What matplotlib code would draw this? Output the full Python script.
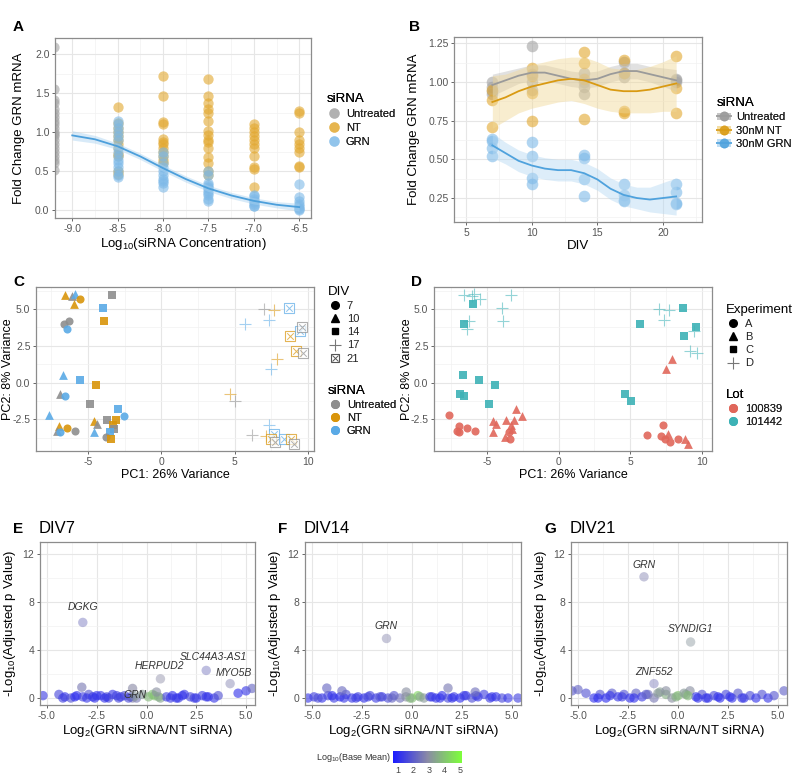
import matplotlib
matplotlib.use('Agg')
import matplotlib.pyplot as plt
from matplotlib.ticker import AutoMinorLocator, FormatStrFormatter
from matplotlib.colors import LinearSegmentedColormap, Normalize
from matplotlib.cm import ScalarMappable
from matplotlib.lines import Line2D
from matplotlib.patches import Patch

plt.rcParams['font.family'] = ['Liberation Sans', 'DejaVu Sans']
plt.rcParams['mathtext.default'] = 'regular'
plt.rcParams['axes.unicode_minus'] = False

# ---------------- A: dose response ----------------
a_untreated = [2.1, 1.55, 1.42, 1.38, 1.3, 1.25, 1.2, 1.15, 1.1, 1.05, 1.0,
               0.98, 0.95, 0.9, 0.85, 0.8, 0.75, 0.7, 0.65, 0.6, 0.52]
a_doses = [-8.5, -8.0, -7.5, -7.0, -6.5]
a_nt = [[1.33, 1.12, 1.05, 1.0, 0.95, 0.9, 0.85, 0.8, 0.72, 0.7, 0.5, 0.47],
        [1.72, 1.47, 1.13, 1.1, 0.92, 0.88, 0.85, 0.8, 0.75, 0.7, 0.65, 0.6],
        [1.69, 1.46, 1.38, 1.3, 1.25, 1.15, 1.02, 0.97, 0.9, 0.87, 0.8, 0.68, 0.6, 0.5, 0.45],
        [1.1, 1.05, 1.0, 0.95, 0.9, 0.85, 0.8, 0.7, 0.55, 0.53, 0.3],
        [1.27, 1.25, 1.0, 0.9, 0.85, 0.8, 0.75, 0.57, 0.55]]
a_grn = [[1.15, 1.1, 1.05, 1.0, 0.95, 0.9, 0.8, 0.75, 0.7, 0.65, 0.6, 0.55, 0.5, 0.45, 0.42],
         [0.75, 0.7, 0.6, 0.55, 0.5, 0.45, 0.4, 0.38, 0.35, 0.3],
         [0.5, 0.45, 0.35, 0.32, 0.3, 0.28, 0.25, 0.22, 0.2, 0.15, 0.12],
         [0.2, 0.18, 0.15, 0.12, 0.1, 0.08, 0.06, 0.05],
         [0.33, 0.17, 0.12, 0.08, 0.05, 0.03, 0.02, 0.0]]
a_fit_x = [-9.0, -8.75, -8.5, -8.25, -8.0, -7.75, -7.5, -7.25, -7.0, -6.75, -6.5]
a_fit_y = [0.96, 0.91, 0.82, 0.69, 0.54, 0.40, 0.28, 0.19, 0.12, 0.07, 0.04]
a_fit_se = [0.06, 0.05, 0.04, 0.04, 0.04, 0.04, 0.04, 0.04, 0.04, 0.04, 0.05]

# ---------------- B: time course ----------------
b_div = [7, 10, 14, 17, 21]
b_untreated = [[1.0, 0.97, 0.94, 0.92], [1.23, 1.05, 1.0, 0.95], [1.06, 1.0, 0.97, 0.92],
               [1.13, 1.06, 1.03], [1.02, 1.0, 1.01]]
b_nt = [[0.95, 0.88, 0.71], [1.09, 1.04, 0.93, 0.75], [1.19, 1.12, 1.02, 0.76],
        [1.14, 1.06, 0.80, 0.81], [1.17, 0.96, 0.80]]
b_grn = [[0.63, 0.62, 0.57, 0.52], [0.61, 0.52, 0.38, 0.34], [0.53, 0.51, 0.37, 0.26],
         [0.34, 0.27, 0.24, 0.23], [0.34, 0.29, 0.22, 0.21]]
b_fit_x = [7, 8, 9, 10, 11, 12, 13, 14, 15, 16, 17, 18, 19, 20, 21]
b_fit_untreated = [0.98, 1.01, 1.04, 1.06, 1.06, 1.04, 1.02, 1.01, 1.02, 1.05, 1.07, 1.07, 1.05, 1.03, 1.01]
b_se_untreated = [0.07, 0.06, 0.05, 0.05, 0.05, 0.05, 0.05, 0.05, 0.05, 0.05, 0.05, 0.05, 0.05, 0.06, 0.07]
b_fit_nt = [0.87, 0.90, 0.94, 0.97, 0.99, 1.01, 1.02, 1.01, 0.98, 0.95, 0.94, 0.94, 0.95, 0.97, 0.99]
b_se_nt = [0.17, 0.15, 0.14, 0.14, 0.14, 0.14, 0.14, 0.15, 0.15, 0.14, 0.14, 0.14, 0.15, 0.16, 0.18]
b_fit_grn = [0.59, 0.54, 0.49, 0.46, 0.44, 0.43, 0.43, 0.41, 0.37, 0.31, 0.27, 0.25, 0.24, 0.25, 0.26]
b_se_grn = [0.08, 0.07, 0.07, 0.07, 0.07, 0.07, 0.07, 0.07, 0.07, 0.07, 0.07, 0.07, 0.08, 0.10, 0.12]

# ---------------- C / D: PCA ----------------
pc1 = [-6.59, -6.07, -5.91, -5.52, -5.95, -3.34, -3.95, -3.91, -6.64, -6.27,
       -6.41, -6.70, -5.55, -4.43, -6.89, -6.59, -4.89, -2.95, -7.66, -2.55,
       -4.59, -4.39, -3.68, -3.11, -3.30, -3.25, -6.98, -6.43, -7.11, -6.93,
       -5.86, -4.57, -3.48, -3.75, -3.41, 7.00, 7.70, 8.68, 5.68, 7.32,
       8.75, 9.43, 9.61, 9.14, 9.68, 7.89, 7.48, 4.66, 5.02, 7.30,
       6.14, 7.16, 7.66, 7.45, 7.75, 8.36, 8.82, 9.02]
pc2 = [5.98, 5.89, 6.03, 5.69, 5.33, 5.98, 5.08, 4.17, 4.01, 4.19,
       3.65, 0.54, 0.16, -0.18, -0.79, -0.91, -1.43, -1.77, -2.18, -2.27,
       -2.65, -2.83, -2.54, -2.54, -2.88, -3.15, -2.95, -3.08, -3.29, -3.38,
       -3.31, -3.35, -3.35, -3.74, -3.85, 4.99, 4.96, 5.08, 3.99, 4.26,
       3.15, 3.51, 3.78, 2.13, 2.04, 1.59, 0.93, -0.79, -1.27, -2.86,
       -3.58, -3.63, -3.47, -3.85, -4.08, -3.85, -3.85, -4.17]
div = [10, 10, 10, 7, 10, 14, 14, 14, 7, 7,
       7, 10, 14, 14, 10, 7, 14, 14, 10, 7,
       10, 10, 14, 14, 14, 14, 10, 7, 10, 7,
       7, 10, 14, 7, 14, 17, 17, 21, 17, 17,
       21, 21, 21, 21, 21, 17, 17, 17, 17, 17,
       17, 17, 21, 21, 21, 21, 21, 21]
sirna = ['NT', 'Untreated', 'GRN', 'NT', 'NT', 'Untreated', 'GRN', 'NT', 'Untreated', 'Untreated',
         'GRN', 'GRN', 'GRN', 'NT', 'Untreated', 'GRN', 'Untreated', 'GRN', 'GRN', 'GRN',
         'NT', 'Untreated', 'Untreated', 'NT', 'NT', 'Untreated', 'NT', 'NT', 'Untreated', 'GRN',
         'Untreated', 'GRN', 'GRN', 'Untreated', 'NT', 'Untreated', 'NT', 'GRN', 'GRN', 'GRN',
         'NT', 'GRN', 'Untreated', 'NT', 'Untreated', 'NT', 'GRN', 'NT', 'Untreated', 'GRN',
         'Untreated', 'NT', 'GRN', 'NT', 'Untreated', 'GRN', 'NT', 'Untreated']
experiment = ['D', 'D', 'D', 'D', 'C', 'D', 'D', 'D', 'C', 'D',
              'D', 'C', 'C', 'C', 'C', 'C', 'C', 'B', 'A', 'B',
              'B', 'B', 'B', 'B', 'B', 'B', 'A', 'A', 'A', 'A',
              'A', 'B', 'A', 'B', 'A', 'D', 'D', 'C', 'C', 'D',
              'C', 'D', 'C', 'D', 'D', 'B', 'B', 'C', 'C', 'A',
              'A', 'A', 'B', 'A', 'A', 'A', 'B', 'B']
lot_of_experiment = {'A': '100839', 'B': '100839', 'C': '101442', 'D': '101442'}

# ---------------- E/F/G: volcano ----------------
e_lfc = [-5.2, -4.4, -4.1, -3.8, -3.5, -3.2, -2.9, -2.6, -2.3, -2.0,
         -1.7, -1.4, -1.1, -0.8, -0.5, -0.2, 0.1, 0.4, 0.7, 1.0,
         1.3, 1.6, 1.9, 2.2, 2.5, 2.8, 3.1, 3.4, 3.6, 4.6,
         -4.2, -3.6, -3.0, -2.5, -1.9, -1.3, -0.7, 0.3, 1.5, 5.0,
         -2.7, -2.1, -1.5, -0.9, 0.6, 1.2, 1.8, 2.4, 3.0, 5.3,
         -3.25, -0.7, 0.5]
e_padj = [0.2, 0.3, 0.1, 0.0, 0.2, 0.1, 0.3, 0.0, 0.2, 0.1,
          0.3, 0.0, 0.2, 0.1, 0.0, 0.3, 0.1, 0.2, 0.0, 0.1,
          0.2, 0.0, 0.3, 0.1, 0.0, 0.2, 0.1, 0.0, 0.2, 0.4,
          0.0, 0.1, 0.0, 0.2, 0.0, 0.1, 0.0, 0.3, 0.0, 0.6,
          0.1, 0.0, 0.2, 0.0, 0.1, 0.0, 0.2, 0.0, 0.1, 0.8,
          0.9, 0.8, 0.5]
e_base = [1.4, 1.6, 1.2, 1.8, 1.3, 1.5, 1.9, 1.2, 1.4, 1.7,
          1.3, 1.6, 1.8, 2.0, 2.6, 3.2, 3.8, 4.1, 3.4, 1.5,
          1.2, 1.4, 1.3, 1.6, 1.1, 1.5, 1.2, 1.3, 1.8, 1.2,
          1.5, 1.1, 1.3, 1.2, 1.6, 1.4, 2.8, 3.9, 1.2, 1.3,
          1.3, 1.2, 1.5, 1.7, 3.6, 1.4, 1.2, 1.5, 1.3, 2.2,
          2.6, 2.9, 3.0]
e_genes = ['DGKG', 'HERPUD2', 'SLC44A3-AS1', 'MYO5B', 'GRN']
e_gene_lfc = [-3.2, 0.7, 3.0, 4.2, -0.6]
e_gene_padj = [6.3, 1.6, 2.3, 1.2, 0.15]
e_gene_base = [2.4, 2.9, 2.4, 2.7, 3.3]

f_lfc = [-5.2, -4.9, -4.5, -4.2, -3.9, -3.6, -3.3, -3.0, -2.7, -2.4,
         -2.1, -1.8, -1.5, -1.2, -0.9, -0.6, -0.3, 0.0, 0.3, 0.6,
         0.9, 1.2, 1.5, 1.8, 2.1, 2.4, 2.7, 3.0, 3.3, 3.6,
         3.9, 4.2, 4.5, 4.8, 5.3, -4.0, -2.8, -1.6, -0.1, 1.0,
         2.0, 3.2, -3.4, -2.2, -1.0, 0.4, 1.4, 2.6, -4.7, 4.0,
         -4.26, -3.5, -0.29, 1.8, 3.16]
f_padj = [0.0, 0.1, 0.0, 0.2, 0.0, 0.1, 0.3, 0.0, 0.1, 0.0,
          0.2, 0.0, 0.1, 0.0, 0.2, 0.0, 0.1, 0.0, 0.2, 0.0,
          0.1, 0.0, 0.2, 0.0, 0.1, 0.0, 0.2, 0.0, 0.1, 0.3,
          0.0, 0.1, 0.0, 0.0, 0.0, 0.2, 0.0, 0.1, 0.0, 0.1,
          0.0, 0.2, 0.0, 0.1, 0.0, 0.1, 0.0, 0.2, 0.0, 0.1,
          0.83, 0.6, 0.5, 0.83, 0.5]
f_base = [1.3, 1.5, 1.2, 1.6, 1.4, 1.1, 1.8, 1.3, 1.5, 1.2,
          1.6, 1.4, 1.2, 1.7, 1.9, 2.4, 3.0, 3.9, 4.3, 3.2,
          1.5, 1.3, 1.2, 1.6, 1.4, 1.1, 1.3, 1.7, 1.2, 1.5,
          1.4, 1.2, 1.6, 1.3, 1.5, 1.2, 1.4, 1.8, 3.6, 1.3,
          1.2, 1.5, 1.3, 1.6, 2.2, 3.4, 1.2, 1.4, 1.7, 1.3,
          2.2, 2.3, 3.0, 2.6, 2.4]
f_genes = ['GRN']
f_gene_lfc = [-1.3]
f_gene_padj = [5.0]
f_gene_base = [2.8]

g_lfc = [-5.3, -5.0, -4.6, -4.2, -3.9, -3.6, -3.3, -3.0, -2.7, -2.4,
         -2.1, -1.8, -1.5, -1.2, -0.9, -0.6, -0.3, 0.0, 0.3, 0.6,
         0.9, 1.2, 1.5, 1.8, 2.1, 2.4, 2.7, 3.0, 3.3, 3.6,
         3.9, 4.2, 4.5, 4.8, 5.3, -4.0, -2.8, -1.6, -0.1, 1.0,
         2.0, 3.2, -3.4, -2.2, -1.0, 0.4, 1.4, 2.6, -0.6, 0.5]
g_padj = [0.6, 0.7, 0.4, 0.0, 0.3, 0.0, 0.4, 0.1, 0.3, 0.0,
          0.4, 0.1, 0.3, 0.0, 0.5, 0.3, 0.0, 0.2, 0.4, 0.6,
          0.1, 0.3, 0.0, 0.2, 0.0, 0.3, 0.0, 0.4, 0.0, 0.2,
          0.0, 0.3, 0.0, 0.2, 0.6, 0.0, 0.1, 0.3, 0.1, 0.0,
          0.1, 0.0, 0.2, 0.0, 0.4, 0.3, 0.0, 0.1, 0.6, 0.2]
g_base = [2.0, 2.2, 1.8, 1.2, 1.9, 1.1, 2.0, 1.3, 1.8, 1.2,
          2.2, 1.4, 2.4, 2.6, 3.3, 3.6, 3.0, 4.0, 3.2, 3.0,
          1.3, 1.9, 1.2, 1.7, 1.1, 1.6, 1.2, 2.0, 1.3, 1.7,
          1.2, 1.8, 1.3, 1.9, 2.1, 1.1, 1.4, 2.0, 3.6, 1.2,
          1.2, 1.4, 1.3, 1.2, 3.2, 3.4, 1.3, 1.2, 3.0, 3.8]
g_genes = ['GRN', 'SYNDIG1', 'ZNF552']
g_gene_lfc = [-1.7, 0.63, -1.2]
g_gene_padj = [10.1, 4.67, 1.2]
g_gene_base = [2.7, 3.1, 2.5]

# ---------------- styling ----------------
GREY, GOLD, BLUE = '#A3A3A3', '#E2A72E', '#7DB9E8'
C_COL = {'Untreated': '#8E8E8E', 'NT': '#D9950B', 'GRN': '#5AAAE6'}
LOT_COL = {'100839': '#E0675B', '101442': '#3DB2B6'}
DIV_MARK = {7: 'o', 10: '^', 14: 's', 17: '+', 21: 'sx'}
EXP_MARK = {'A': 'o', 'B': '^', 'C': 's', 'D': '+'}
W, H = 797, 780


def box(l, t, r, b):
    return [l / W, 1 - b / H, (r - l) / W, (b - t) / H]


def fx(px):
    return px / W


def fy(py):
    return 1 - py / H


def bw(ax):
    for s in ax.spines.values():
        s.set_color('#8C8C8C')
        s.set_linewidth(0.9)
    ax.xaxis.set_minor_locator(AutoMinorLocator(2))
    ax.yaxis.set_minor_locator(AutoMinorLocator(2))
    ax.grid(True, which='major', color='#E6E6E6', lw=0.8)
    ax.grid(True, which='minor', color='#F2F2F2', lw=0.5)
    ax.set_axisbelow(True)
    ax.tick_params(which='major', length=2.5, width=0.7, color='#666666',
                   labelsize=7.5, labelcolor='#555555', pad=1.5)
    ax.tick_params(which='minor', length=0)


def ylab(text, px, py, size=9.5):
    fig.text(fx(px), fy(py), text, rotation=90, ha='center', va='center', fontsize=size)


def legend_at(ax, handles, labels, title, px, py, spacing=0.35):
    lg = ax.legend(handles, labels, title=title, loc='upper left',
                   bbox_to_anchor=(fx(px), fy(py)), bbox_transform=fig.transFigure,
                   frameon=False, fontsize=8, title_fontsize=9.5, borderpad=0,
                   handlelength=1.3, handletextpad=0.4, labelspacing=spacing,
                   borderaxespad=0, labelcolor='#222222')
    lg._legend_box.align = 'left'
    ax.add_artist(lg)
    return lg


fig = plt.figure(figsize=(7.97, 7.8), dpi=100)

# ---------- A ----------
ax = fig.add_axes(box(55, 38, 311, 218))
bw(ax)
ax.scatter([-9.2] * len(a_untreated), a_untreated, s=55, color=GREY, alpha=0.6, lw=0)
for d, nt in zip(a_doses, a_nt):
    ax.scatter([d] * len(nt), nt, s=55, color=GOLD, alpha=0.6, lw=0)
for d, grn in zip(a_doses, a_grn):
    ax.scatter([d] * len(grn), grn, s=55, color=BLUE, alpha=0.6, lw=0)
ax.fill_between(a_fit_x, [y - s for y, s in zip(a_fit_y, a_fit_se)],
                [y + s for y, s in zip(a_fit_y, a_fit_se)], color='#A9D2F0', alpha=0.45, lw=0)
ax.plot(a_fit_x, a_fit_y, color='#4C9FDB', lw=1.3)
ax.set_xlim(-9.19, -6.37)
ax.set_ylim(-0.1, 2.21)
ax.set_xticks([-9.0, -8.5, -8.0, -7.5, -7.0, -6.5])
ax.set_yticks([0.0, 0.5, 1.0, 1.5, 2.0])
ax.xaxis.set_major_formatter(FormatStrFormatter('%.1f'))
ax.yaxis.set_major_formatter(FormatStrFormatter('%.1f'))
ax.set_xlabel('Log$_{10}$(siRNA Concentration)', fontsize=9.5, labelpad=2)
ylab('Fold Change GRN mRNA', 19, 128)
hs = [Line2D([], [], ls='', marker='o', ms=7.5, color=c, alpha=0.6, mew=0) for c in (GREY, GOLD, BLUE)]
legend_at(ax, hs, ['Untreated', 'NT', 'GRN'], 'siRNA', 327, 93)
fig.text(fx(13), fy(31), 'A', fontsize=11, fontweight='bold')

# ---------- B ----------
ax = fig.add_axes(box(454, 37, 702, 222))
bw(ax)
for pts, col in ((b_untreated, GREY), (b_nt, GOLD), (b_grn, BLUE)):
    for d, vals in zip(b_div, pts):
        ax.scatter([d] * len(vals), vals, s=70, color=col, alpha=0.6, lw=0)
for fit, se, band, line in ((b_fit_untreated, b_se_untreated, '#BDBDBD', '#9A9A9A'),
                            (b_fit_nt, b_se_nt, '#F1D896', '#D99A12'),
                            (b_fit_grn, b_se_grn, '#B5D8F2', '#4FA2DD')):
    ax.fill_between(b_fit_x, [y - s for y, s in zip(fit, se)], [y + s for y, s in zip(fit, se)],
                    color=band, alpha=0.45, lw=0)
    ax.plot(b_fit_x, fit, color=line, lw=1.3)
ax.set_xlim(4.08, 22.97)
ax.set_ylim(0.095, 1.29)
ax.set_xticks([5, 10, 15, 20])
ax.set_yticks([0.25, 0.5, 0.75, 1.0, 1.25])
ax.yaxis.set_major_formatter(FormatStrFormatter('%.2f'))
ax.set_xlabel('DIV', fontsize=9.5, labelpad=2)
ylab('Fold Change GRN mRNA', 414, 129)
hs = []
for band, line in (('#BDBDBD', '#9A9A9A'), ('#F1D896', '#D99A12'), ('#B5D8F2', '#4FA2DD')):
    hs.append((Patch(color=band, alpha=0.6, lw=0),
               Line2D([], [], color=line, lw=1.3, marker='o', ms=7, mfc=line, mec='none', alpha=0.8)))
legend_at(ax, hs, ['Untreated', '30nM NT', '30nM GRN'], 'siRNA', 717, 97, spacing=0.3)
fig.text(fx(409), fy(31), 'B', fontsize=11, fontweight='bold')


# ---------- C / D ----------
def pca_point(ax, x, y, mk, col):
    if mk == 'sx':
        ax.scatter([x], [y], marker='s', s=42, facecolor='white', edgecolor=col, lw=0.8, alpha=0.7)
        ax.scatter([x], [y], marker='x', s=22, color=col, lw=0.7, alpha=0.7)
    elif mk == '+':
        ax.scatter([x], [y], marker='+', s=75, color=col, lw=0.8, alpha=0.55)
    else:
        ax.scatter([x], [y], marker=mk, s=34 if mk != '^' else 40, color=col, lw=0, alpha=0.9)


def pca_axes(box_px, ylab_x):
    ax = fig.add_axes(box(*box_px))
    bw(ax)
    ax.set_ylim(-4.66, 6.5)
    ax.set_xticks([-5, 0, 5, 10])
    ax.set_yticks([-2.5, 0.0, 2.5, 5.0])
    ax.yaxis.set_major_formatter(FormatStrFormatter('%.1f'))
    ax.set_xlabel('PC1: 26% Variance', fontsize=9, labelpad=2)
    ylab('PC2: 8% Variance', ylab_x, 369, size=9)
    return ax


ax = pca_axes((36, 287, 314, 451), 8)
ax.set_xlim(-8.55, 10.4)
for x, y, d, s in zip(pc1, pc2, div, sirna):
    pca_point(ax, x, y, DIV_MARK[d], C_COL[s])
div_h = [Line2D([], [], ls='', marker='o', ms=5.5, color='black'),
         Line2D([], [], ls='', marker='^', ms=6, color='black'),
         Line2D([], [], ls='', marker='s', ms=5, color='black'),
         Line2D([], [], ls='', marker='+', ms=8, color='#777777', mew=0.8),
         (Line2D([], [], ls='', marker='s', ms=6, mfc='white', mec='#555555', mew=0.8),
          Line2D([], [], ls='', marker='x', ms=4, color='#555555', mew=0.7))]
legend_at(ax, div_h, ['7', '10', '14', '17', '21'], 'DIV', 328, 286, spacing=0.28)
sir_h = [Line2D([], [], ls='', marker='o', ms=5.5, color=C_COL[k]) for k in ('Untreated', 'NT', 'GRN')]
legend_at(ax, sir_h, ['Untreated', 'NT', 'GRN'], 'siRNA', 328, 385, spacing=0.28)
fig.text(fx(13), fy(286), 'C', fontsize=11, fontweight='bold')

ax = pca_axes((434, 287, 712, 451), 407)
ax.set_xlim(-8.7, 10.7)
for x, y, e in zip(pc1, pc2, experiment):
    pca_point(ax, x, y, EXP_MARK[e], LOT_COL[lot_of_experiment[e]])
exp_h = [Line2D([], [], ls='', marker='o', ms=5.5, color='black'),
         Line2D([], [], ls='', marker='^', ms=6, color='black'),
         Line2D([], [], ls='', marker='s', ms=5, color='black'),
         Line2D([], [], ls='', marker='+', ms=8, color='#777777', mew=0.8)]
legend_at(ax, exp_h, ['A', 'B', 'C', 'D'], 'Experiment', 726, 304, spacing=0.28)
lot_h = [Line2D([], [], ls='', marker='o', ms=5.5, color=LOT_COL[k]) for k in ('100839', '101442')]
legend_at(ax, lot_h, ['100839', '101442'], 'Lot', 726, 389, spacing=0.28)
fig.text(fx(411), fy(286), 'D', fontsize=11, fontweight='bold')

# ---------- E / F / G ----------
cmap = LinearSegmentedColormap.from_list('bm', ['#1b1bff', '#8a8aa6', '#7dff3a'])
norm = Normalize(0.72, 5.1)
label_off = {'DGKG': (0, 11), 'HERPUD2': (-1, 9), 'SLC44A3-AS1': (5, 9.5), 'MYO5B': (3, 8),
             'GRN': (0, 8.6), 'SYNDIG1': (0, 9.4), 'ZNF552': (0, 8.6)}


def volcano(box_px, lfc, padj, base, genes, glfc, gpadj, gbase, letter, title, grn_inline=False):
    ax = fig.add_axes(box(*box_px))
    bw(ax)
    ax.scatter(lfc, padj, c=base, cmap=cmap, norm=norm, s=46, alpha=0.62, lw=0)
    ax.scatter(glfc, gpadj, c=gbase, cmap=cmap, norm=norm, s=46, alpha=0.45, lw=0)
    for g, x, y in zip(genes, glfc, gpadj):
        off = (0, 1) if (grn_inline and g == 'GRN') else label_off[g]
        ax.annotate(g, (x, y), xytext=off, textcoords='offset points', ha='center', va='center',
                    fontsize=7.5, style='italic', color='#333333')
    ax.set_xlim(-5.35, 5.45)
    ax.set_ylim(-0.58, 13)
    ax.set_xticks([-5.0, -2.5, 0.0, 2.5, 5.0])
    ax.set_yticks([0, 4, 8, 12])
    ax.xaxis.set_major_formatter(FormatStrFormatter('%.1f'))
    ax.set_xlabel('Log$_2$(GRN siRNA/NT siRNA)', fontsize=9.5, labelpad=2)
    l = box_px[0]
    ylab('-Log$_{10}$(Adjusted p Value)', l - 30, 623)
    fig.text(fx(l - 27), fy(533), letter, fontsize=11, fontweight='bold')
    fig.text(fx(l - 1), fy(533), title, fontsize=12)
    return ax


volcano((40, 542, 255, 705), e_lfc, e_padj, e_base, e_genes, e_gene_lfc, e_gene_padj,
        e_gene_base, 'E', 'DIV7', grn_inline=True)
volcano((305, 542, 521, 705), f_lfc, f_padj, f_base, f_genes, f_gene_lfc, f_gene_padj,
        f_gene_base, 'F', 'DIV14')
volcano((571, 542, 787, 705), g_lfc, g_padj, g_base, g_genes, g_gene_lfc, g_gene_padj,
        g_gene_base, 'G', 'DIV21')

cax = fig.add_axes(box(393, 751, 462, 763))
cb = fig.colorbar(ScalarMappable(norm=norm, cmap=cmap), cax=cax, orientation='horizontal')
cb.outline.set_visible(False)
cb.set_ticks([1, 2, 3, 4, 5])
cax.tick_params(length=0, labelsize=6.5, pad=2, labelcolor='#444444')
fig.text(fx(391), fy(757), 'Log$_{10}$(Base Mean)', fontsize=6.5, ha='right', va='center', color='#333333')

fig.savefig('out.png', dpi=100)
